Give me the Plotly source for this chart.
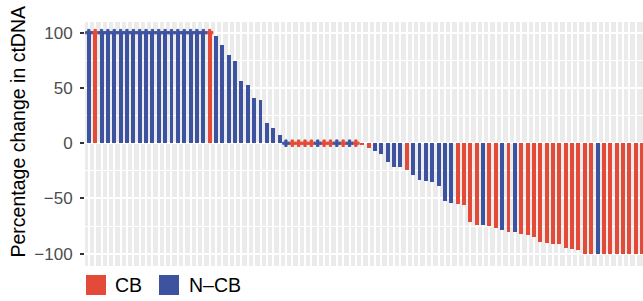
import plotly.graph_objects as go

# ---- data ----
values = (
    [100] * 20 +
    [97.3, 89, 80, 74.5, 56.4, 52.7, 40.9, 39.1, 18.2, 13.6, 7.3] +
    [0] * 12 +
    [-1.5, -4.2, -7, -9.7, -17, -21.5, -21.5, -24.2, -28.8, -33.3, -34.2, -35.2,
     -38.8, -52.4, -54.2, -55.2, -56.1, -71.5, -74.2, -74.2, -75.2, -77, -78.8,
     -80.6, -80.6, -82.5, -83.4, -85.2, -89.7, -90.6, -91.5, -91.5, -95.2, -96.1,
     -97] +
    [-100] * 10
)
group_of_bar = (
    ["N-CB", "CB"] + ["N-CB"] * 17 + ["CB"] +          # 0-19
    ["N-CB"] * 11 +                                    # 20-30
    ["N-CB", "CB", "CB", "CB", "CB", "N-CB", "CB", "CB", "N-CB", "CB", "N-CB", "CB"] +  # 31-42
    ["CB", "CB"] +                                     # 43-44
    ["N-CB"] * 5 + ["CB"] + ["N-CB"] * 7 +              # 45-57
    ["CB"] * 4 + ["N-CB", "CB", "CB", "N-CB", "CB", "N-CB"] +  # 58-67
    ["CB"] * 12 + ["N-CB"] + ["CB"] * 7                 # 68-87
)
patients = list(range(len(values)))
legend_labels = ["CB", "N\u2013CB"]
y_ticks = [-100, -50, 0, 50, 100]
y_tick_text = ["\u2212100", "\u221250", "0", "50", "100"]

colors = {"CB": "#E34A37", "N-CB": "#3E53A0"}

fig = go.Figure()
for g in ["CB", "N-CB"]:
    xs = [p for p, gg in zip(patients, group_of_bar) if gg == g]
    ys = [v for v, gg in zip(values, group_of_bar) if gg == g]
    fig.add_trace(go.Bar(x=xs, y=ys, width=0.62, marker_color=colors[g],
                         marker_line_width=0, showlegend=False, name=g))
for g in ["CB", "N-CB"]:
    mx = [p for p, v, gg in zip(patients, values, group_of_bar) if gg == g and (v == 0 or v >= 100)]
    my = [v for v, gg in zip(values, group_of_bar) if gg == g and (v == 0 or v >= 100)]
    fig.add_trace(go.Scatter(x=mx, y=my, mode="markers",
                             marker=dict(symbol="cross", size=5.5, color=colors[g],
                                         line=dict(width=1, color=colors[g])),
                             showlegend=False, hoverinfo="skip"))

FONT = "Liberation Sans, Arial, Helvetica, sans-serif"
L, R, T, B = 85, 0, 22, 35
W, H = 643, 301
pw, ph = W - L - R, H - T - B

def px_x(x):
    return (x - L) / pw

def px_y(y):
    return (H - B - y) / ph

# legend (drawn keys + labels)
shapes = []
annotations = []
for (x0, tx, lab, g) in [(86, 113, legend_labels[0], "CB"), (159, 187, legend_labels[1], "N-CB")]:
    shapes.append(dict(type="rect", xref="paper", yref="paper",
                       x0=px_x(x0), x1=px_x(x0 + 20), y0=px_y(295), y1=px_y(275),
                       fillcolor=colors[g], line_width=0))
    annotations.append(dict(xref="paper", yref="paper", x=px_x(tx), y=px_y(285),
                            xanchor="left", yanchor="middle", showarrow=False,
                            text=lab, font=dict(family=FONT, size=19.5, color="#000000")))

annotations.append(dict(xref="paper", yref="paper", x=px_x(17), y=px_y(132.5),
                        xanchor="center", yanchor="middle", showarrow=False,
                        textangle=-90, text="Percentage change in ctDNA",
                        font=dict(family=FONT, size=19.5, color="#000000")))

fig.update_layout(
    width=W, height=H,
    margin=dict(l=L, r=R, t=T, b=B, pad=0),
    paper_bgcolor="white", plot_bgcolor="#EBEBEB",
    barmode="overlay", bargap=0,
    shapes=shapes, annotations=annotations,
    showlegend=False,
)
fig.update_xaxes(range=[-0.6, 87.15], tickmode="linear", tick0=0, dtick=1,
                 showgrid=True, gridcolor="white", gridwidth=2,
                 showticklabels=False, ticks="", zeroline=False, showline=False)
fig.update_yaxes(range=[-111.1, 109.7], tickmode="array", tickvals=y_ticks, ticktext=y_tick_text,
                 showgrid=True, gridcolor="white", gridwidth=2, zeroline=False, showline=False,
                 ticks="outside", ticklen=4, tickwidth=1.5, tickcolor="#333333",
                 ticklabelstandoff=4,
                 tickfont=dict(family=FONT, size=17, color="#4D4D4D"),
                 minor=dict(tickvals=[-75, -25, 25, 75], showgrid=True, gridcolor="white", gridwidth=1))

fig.write_html("out.html", config={"displayModeBar": False},
               post_script="document.body.style.margin='0';document.body.style.overflow='hidden';")
